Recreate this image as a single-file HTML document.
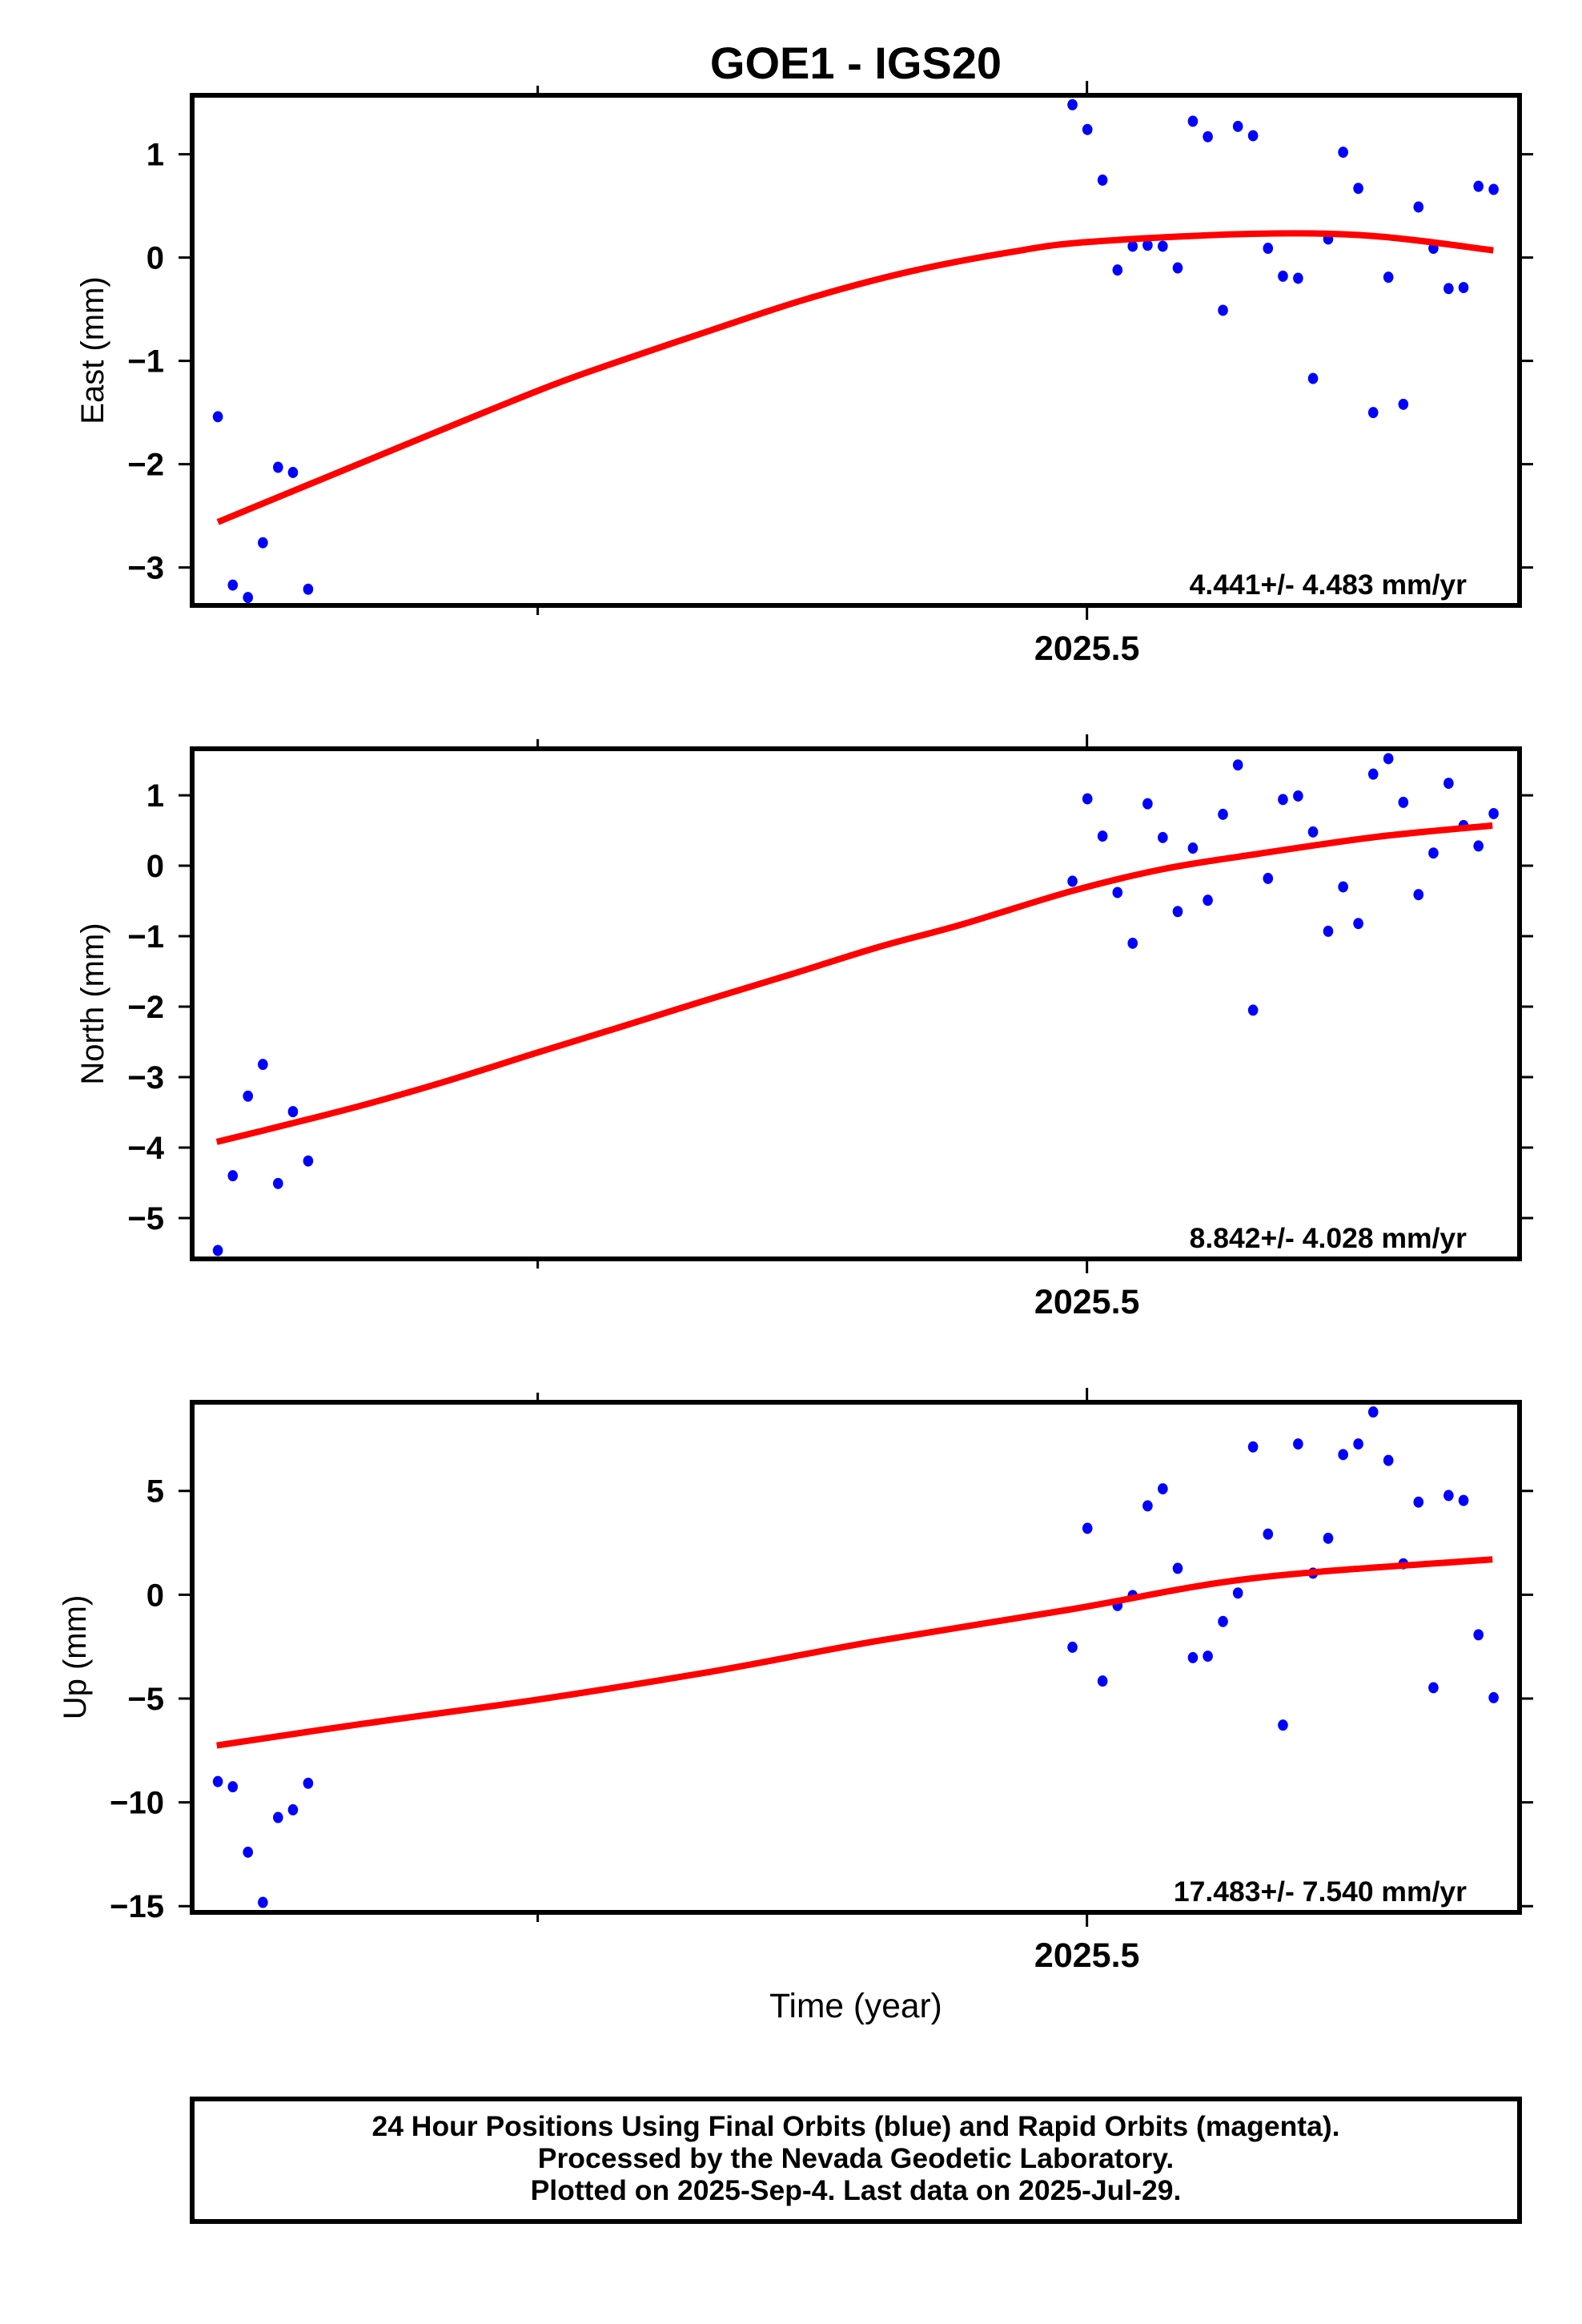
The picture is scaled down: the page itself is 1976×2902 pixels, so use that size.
<!DOCTYPE html>
<html>
<head>
<meta charset="utf-8">
<style>
html,body{margin:0;padding:0;background:#fff;}
svg{display:block;}
text{font-family:"Liberation Sans",Arial,sans-serif;}
</style>
</head>
<body>
<svg id="chart" width="1976" height="2902" viewBox="0 0 1976 2902" xmlns="http://www.w3.org/2000/svg">
  <rect x="0" y="0" width="1976" height="2902" fill="#fff"/>
  <text x="1069" y="98" text-anchor="middle" font-size="56" font-weight="bold">GOE1 - IGS20</text>
  <g id="panels"></g>
  <text x="1069" y="2519" text-anchor="middle" font-size="42.5">Time (year)</text>
  <g>
    <rect x="240" y="2621" width="1658" height="153" fill="none" stroke="#000" stroke-width="6"/>
    <text x="1069" y="2667" text-anchor="middle" font-size="35.5" font-weight="bold">24 Hour Positions Using Final Orbits (blue) and Rapid Orbits (magenta).</text>
    <text x="1069" y="2707" text-anchor="middle" font-size="35.5" font-weight="bold">Processed by the Nevada Geodetic Laboratory.</text>
    <text x="1069" y="2747" text-anchor="middle" font-size="35.5" font-weight="bold">Plotted on 2025-Sep-4. Last data on 2025-Jul-29.</text>
  </g>
</svg>
<script>
// ---- data ----
const obsTimes = [2025.1044,2025.1112,2025.1181,2025.1249,2025.1318,2025.1386,2025.1455,
  2025.4934,2025.5002,2025.5071,2025.5139,2025.5208,2025.5276,2025.5345,2025.5413,2025.5482,2025.5550,
  2025.5619,2025.5687,2025.5756,2025.5824,2025.5892,2025.5961,2025.6029,2025.6098,2025.6166,2025.6235,
  2025.6303,2025.6372,2025.6440,2025.6509,2025.6577,2025.6646,2025.6714,2025.6782,2025.6851];
const eastValues = [-1.54,-3.17,-3.29,-2.76,-2.03,-2.08,-3.21,
  1.48,1.24,0.75,-0.12,0.11,0.12,0.11,-0.10,1.32,1.17,-0.51,1.27,1.18,0.09,-0.18,-0.20,-1.17,0.18,1.02,0.67,
  -1.50,-0.19,-1.42,0.49,0.09,-0.30,-0.29,0.69,0.66];
const northValues = [-5.46,-4.40,-3.27,-2.82,-4.51,-3.49,-4.19,
  -0.22,0.95,0.42,-0.38,-1.10,0.88,0.40,-0.65,0.25,-0.49,0.73,1.43,-2.05,-0.18,0.94,0.99,0.48,-0.93,-0.30,-0.82,
  1.30,1.52,0.90,-0.41,0.18,1.17,0.57,0.28,0.74];
const upValues = [-9.00,-9.25,-12.4,-14.82,-10.73,-10.36,-9.08,
  -2.53,3.20,-4.16,-0.52,-0.04,4.28,5.10,1.27,-3.03,-2.96,-1.29,0.08,7.12,2.92,-6.28,7.26,1.04,2.72,6.75,7.26,
  8.80,6.47,1.49,4.46,-4.48,4.78,4.54,-1.93,-4.96];
const eastFitT = [2025.1044,2025.1888,2025.2499,2025.2807,2025.3266,2025.3725,2025.4184,2025.4645,2025.5,2025.5747,2025.6297,2025.6850];
const eastFitV = [-2.56,-1.82,-1.29,-1.05,-0.72,-0.40,-0.14,0.05,0.15,0.23,0.21,0.07];
const northFitT = [2025.1039,2025.1261,2025.1702,2025.2092,2025.25,2025.2875,2025.3265,2025.3655,2025.4045,2025.4434,2025.4930,2025.5342,2025.5760,2025.6318,2025.6846];
const northFitV = [-3.92,-3.75,-3.40,-3.05,-2.65,-2.29,-1.91,-1.54,-1.16,-0.83,-0.36,-0.05,0.16,0.41,0.57];
const upFitT = [2025.1039,2025.1702,2025.25,2025.3265,2025.4045,2025.4930,2025.5760,2025.6846];
const upFitV = [-7.26,-6.22,-5.05,-3.75,-2.23,-0.70,0.80,1.70];
const eastTicks = [1,0,-1,-2,-3];
const northTicks = [1,0,-1,-2,-3,-4,-5];
const upTicks = [5,0,-5,-10,-15];
const xMajorTicks = [2025.5];
const xMajorLabels = ["2025.5"];
const xMinorTicks = [2025.25];
const rateLabels = ["4.441+/- 4.483 mm/yr","8.842+/- 4.028 mm/yr","17.483+/- 7.540 mm/yr"];
const axisTitles = ["East (mm)","North (mm)","Up (mm)"];

// ---- layout ----
const NS = "http://www.w3.org/2000/svg";
const X0 = 240, X1 = 1898;
const T0 = 2025.0927, T1 = 2025.6969;
function xScale(t){ return X0 + (t - T0) / (T1 - T0) * (X1 - X0); }

const panels = [
  {key:'east', top:119, bottom:756, vmin:-3.367, vmax:1.571, vals:eastValues, fitT:eastFitT, fitV:eastFitV, ticks:eastTicks, titleX:115},
  {key:'north', top:935, bottom:1572, vmin:-5.58, vmax:1.66, vals:northValues, fitT:northFitT, fitV:northFitV, ticks:northTicks, titleX:115},
  {key:'up', top:1751, bottom:2388, vmin:-15.3, vmax:9.27, vals:upValues, fitT:upFitT, fitV:upFitV, ticks:upTicks, titleX:93}
];

function mk(tag, attrs, parent){
  const e = document.createElementNS(NS, tag);
  for (const k in attrs) e.setAttribute(k, attrs[k]);
  parent.appendChild(e);
  return e;
}

function smoothPath(pts){
  let d = 'M' + pts[0][0].toFixed(1) + ',' + pts[0][1].toFixed(1);
  for (let i = 0; i < pts.length - 1; i++){
    const p0 = pts[Math.max(0, i-1)], p1 = pts[i], p2 = pts[i+1], p3 = pts[Math.min(pts.length-1, i+2)];
    const c1x = p1[0] + (p2[0]-p0[0])/6, c1y = p1[1] + (p2[1]-p0[1])/6;
    const c2x = p2[0] - (p3[0]-p1[0])/6, c2y = p2[1] - (p3[1]-p1[1])/6;
    d += ' C' + c1x.toFixed(1) + ',' + c1y.toFixed(1) + ' ' + c2x.toFixed(1) + ',' + c2y.toFixed(1) + ' ' + p2[0].toFixed(1) + ',' + p2[1].toFixed(1);
  }
  return d;
}

const root = document.getElementById('panels');
panels.forEach(function(p, pi){
  const yScale = function(v){ return p.bottom - (v - p.vmin) / (p.vmax - p.vmin) * (p.bottom - p.top); };
  const g = mk('g', {}, root);
  
  

  p.ticks.forEach(function(v){
    const y = yScale(v);
    const tl = mk('line', {x1:X0-17, x2:X0, y1:y, y2:y, stroke:'#000', 'stroke-width':3}, g);
    
    
    const tr = mk('line', {x1:X1, x2:X1+17, y1:y, y2:y, stroke:'#000', 'stroke-width':3}, g);
    
    
    const lab = mk('text', {x:X0-35, y:y+14, 'text-anchor':'end', 'font-size':40, 'font-weight':'bold'}, g);
    lab.textContent = (v < 0 ? '\u2212' + Math.abs(v) : String(v));
    
    
  });

  xMajorTicks.concat(xMinorTicks).forEach(function(t, i){
    const x = xScale(t);
    const major = i < xMajorTicks.length;
    const len = major ? 18 : 12;
    const tt = mk('line', {x1:x, x2:x, y1:p.top-len, y2:p.top, stroke:'#000', 'stroke-width':3}, g);
    
    
    const tb = mk('line', {x1:x, x2:x, y1:p.bottom, y2:p.bottom+len, stroke:'#000', 'stroke-width':3}, g);
    
    
  });
  xMajorTicks.forEach(function(t, i){
    const xl = mk('text', {x:xScale(t), y:p.bottom+68, 'text-anchor':'middle', 'font-size':43, 'font-weight':'bold'}, g);
    xl.textContent = xMajorLabels[i];
    
    
  });

  const yt = mk('text', {x:p.titleX, y:(p.top+p.bottom)/2, 'text-anchor':'middle', 'font-size':40, transform:'rotate(-90 ' + p.titleX + ' ' + ((p.top+p.bottom)/2) + ')', dy:14}, g);
  yt.textContent = axisTitles[pi];
  
  

  const cp = mk('clipPath', {id:'clip-' + p.key}, g);
  mk('rect', {x:X0, y:p.top, width:X1-X0, height:p.bottom-p.top}, cp);
  const plot = mk('g', {'clip-path':'url(#clip-' + p.key + ')'}, g);

  p.vals.forEach(function(v, i){
    const c = mk('ellipse', {cx:xScale(obsTimes[i]), cy:yScale(v), rx:6.3, ry:7, fill:'#0000ff'}, plot);
    
    
  });

  const pts = p.fitT.map(function(t, i){ return [xScale(t), yScale(p.fitV[i])]; });
  const fit = mk('path', {d:smoothPath(pts), fill:'none', stroke:'#ff0000', 'stroke-width':8}, plot);
  
  

  const rl = mk('text', {x:1832, y:p.bottom-14, 'text-anchor':'end', 'font-size':35.5, 'font-weight':'bold'}, g);
  rl.textContent = rateLabels[pi];
  
  

  const fr = mk('rect', {x:X0, y:p.top, width:X1-X0, height:p.bottom-p.top, fill:'none', stroke:'#000', 'stroke-width':6}, g);
  
  
});
</script>
</body>
</html>
